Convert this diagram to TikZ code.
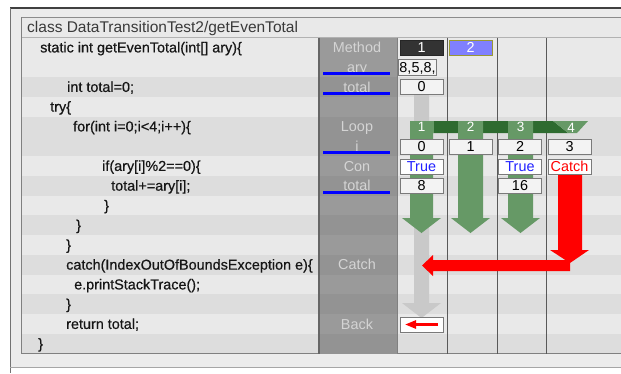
\documentclass[tikz,border=0pt]{standalone}
\usepackage{fontspec}
\setmainfont{Liberation Sans}
\newfontfamily\codefont{Liberation Sans}[FakeBold=0.5]
\usetikzlibrary{arrows.meta}
\definecolor{rowA}{HTML}{E9E9E9}
\definecolor{rowB}{HTML}{DDDDDD}
\definecolor{frameA}{HTML}{ECECEC}
\definecolor{colgray}{HTML}{9A9A9A}
\definecolor{lblgray}{HTML}{D4D4D4}
\definecolor{dkgreen}{HTML}{2E6B30}
\definecolor{ltgreen}{HTML}{669966}
\definecolor{pipegray}{HTML}{C9C9C9}
\definecolor{boxfill}{HTML}{F3F3F3}
\definecolor{boxline}{HTML}{7A7A7A}
\definecolor{methodblue}{HTML}{8080FF}
\definecolor{olivec}{HTML}{999933}
\definecolor{truetext}{HTML}{2222FF}
\definecolor{codetext}{HTML}{161616}
\definecolor{titletext}{HTML}{3A3A3A}
\newcommand{\rowc}[1]{(47.4+19.75*#1)}
\tikzset{
  code/.style={anchor=base west, inner sep=0pt, text=codetext, font=\codefont\fontsize{14.4}{16}\selectfont},
  lbl/.style={inner sep=0pt, text=lblgray, text height=10.3pt, text depth=0pt, font=\fontsize{14.4}{16}\selectfont},
  vbox/.style={draw=boxline, line width=0.8pt, fill=boxfill, minimum width=43pt, minimum height=15pt, inner sep=0pt, text height=10.3pt, text depth=0pt, font=\fontsize{14.4}{16}\selectfont},
  glbl/.style={fill=ltgreen, minimum height=12pt, inner sep=0pt, text=white, text height=9.6pt, text depth=0pt, font=\fontsize{13.5}{15}\selectfont},
  blueline/.style={draw=blue, line width=3pt},
  colline/.style={draw=black!65, line width=0.8pt}
}
\begin{document}
\begin{tikzpicture}[x=1pt,y=-1pt]
\useasboundingbox (0,0) rectangle (621,373);
\fill[white] (0,0) rectangle (621,373);
% outer frame
\fill[frameA] (10,8) rectangle (621,367);
\draw[black!75, line width=1.2pt] (10,8) -- (621,8);
\draw[black!55, line width=1pt] (10,8) -- (10,373);
\draw[black!35, line width=0.8pt] (10,367) -- (621,367);
% title row
\fill[rowA] (21,17) rectangle (621,37.5);
\node[anchor=base west, inner sep=0pt, text=titletext, font=\fontsize{15.5}{17}\selectfont] (title) at (27,32.5) {class DataTransitionTest2/getEvenTotal};
% rows
\foreach \i/\c in {0/rowA,1/rowA,2/rowB,3/rowA,4/rowB,5/rowB,6/rowA,7/rowB,8/rowA,9/rowB,10/rowA,11/rowB,12/rowA,13/rowB,14/rowA,15/rowB}
  \fill[\c] (21,{37.5+19.75*\i}) rectangle (621,{37.5+19.75*(\i+1)});
% panel borders
\draw[black!45, line width=0.8pt] (21,17) -- (621,17);
\draw[black!30, line width=0.8pt] (21,37.5) -- (621,37.5);
\draw[black!50, line width=0.8pt] (21,17) -- (21,353.5) -- (621,353.5);
% code
\node[code] (l0) at (40,{\rowc{0}+5}) {static int getEvenTotal(int[] ary)\{};
\node[code] (l2) at (67,{\rowc{2}+5}) {int total=0;};
\node[code] (l3) at (50,{\rowc{3}+5}) {try\{};
\node[code] (l4) at (73,{\rowc{4}+5}) {for(int i=0;i<4;i++)\{};
\node[code] (l6) at (102,{\rowc{6}+5}) {if(ary[i]\%2==0)\{};
\node[code] (l7) at (111,{\rowc{7}+5}) {total+=ary[i];};
\node[code] (l8) at (104,{\rowc{8}+5}) {\}};
\node[code] (l9) at (76,{\rowc{9}+5}) {\}};
\node[code] (l10) at (66,{\rowc{10}+5}) {\}};
\node[code] (l11) at (66,{\rowc{11}+5}) {catch(IndexOutOfBoundsException e)\{};
\node[code] (l12) at (74,{\rowc{12}+5}) {e.printStackTrace();};
\node[code] (l13) at (66,{\rowc{13}+5}) {\}};
\node[code] (l14) at (66,{\rowc{14}+5}) {return total;};
\node[code] (l15) at (38,{\rowc{15}+5}) {\}};
% gray column
\fill[colgray] (318,37.5) rectangle (398,353.5);
\foreach \i in {2,4,5,7,9,11,13,15}
  \fill[black, opacity=0.04] (318,{37.5+19.75*\i}) rectangle (398,{37.5+19.75*(\i+1)});
\draw[black!60, line width=1.6pt] (318.8,37.5) -- (318.8,353.5);
\draw[black!50, line width=1.4pt] (397.3,37.5) -- (397.3,353.5);
% labels
\node[lbl] (lmethod) at (357,{\rowc{0}}) {Method};
\node[lbl] (lary) at (357,{\rowc{1}}) {ary};
\node[lbl] (ltotal) at (357,{\rowc{2}}) {total};
\node[lbl] (lloop) at (357,{\rowc{4}}) {Loop};
\node[lbl] (li) at (357,{\rowc{5}}) {i};
\node[lbl] (lcon) at (357,{\rowc{6}}) {Con};
\node[lbl] (ltotal2) at (357,{\rowc{7}}) {total};
\node[lbl] (lcatch) at (357,{\rowc{11}}) {Catch};
\node[lbl] (lback) at (357,{\rowc{14}}) {Back};
\draw[blueline] (323,73.5) -- (390,73.5);
\draw[blueline] (323,93) -- (390,93);
\draw[blueline] (323,152.5) -- (390,152.5);
\draw[blueline] (323,192) -- (390,192);
% column lines
\draw[colline] (447.5,37.5) -- (447.5,353.5);
\draw[colline] (497,37.5) -- (497,353.5);
\draw[colline] (546.5,37.5) -- (546.5,353.5);
% gray pipe to Back
\fill[pipegray] (414,94) -- (429,94) -- (429,303) -- (441,303) -- (421.5,318) -- (402,303) -- (414,303) -- cycle;
% loop band
\fill[dkgreen] (410,121) -- (553,121) -- (568,133) -- (410,133) -- cycle;
\fill[ltgreen] (553,121) -- (588,121) -- (577,133) -- (568,133) -- cycle;
% green arrows
\fill[ltgreen] (410,121) -- (433,121) -- (433,218) -- (441,218) -- (421.5,233) -- (402,218) -- (410,218) -- cycle;
\fill[ltgreen] (458,121) -- (483,121) -- (483,218) -- (490,218) -- (470.5,233) -- (451,218) -- (458,218) -- cycle;
\fill[ltgreen] (508,121) -- (533,121) -- (533,218) -- (540,218) -- (520.5,233) -- (501,218) -- (508,218) -- cycle;
\node[glbl, minimum width=24pt] (g1) at (421.5,127) {1};
\node[glbl, minimum width=25pt] (g2) at (470.5,127) {2};
\node[glbl, minimum width=25pt] (g3) at (520.5,127) {3};
\node[inner sep=0pt, text=white, text height=9.6pt, text depth=0pt, font=\fontsize{13.5}{15}\selectfont] (g4) at (571,128) {4};
% red arrows
\fill[red] (558,170) -- (582,170) -- (582,250) -- (589,250) -- (570,263) -- (550,250) -- (558,250) -- cycle;
\fill[red] (570,260) -- (570,271) -- (433,271) -- (433,276) -- (422,265.5) -- (433,255) -- (433,260) -- cycle;
% value boxes
\node[vbox, fill=black!80, draw=black!85, text=white] (m1) at (421.5,47.5) {1};
\node[vbox, fill=methodblue, draw=olivec, text=white] (m2) at (470.5,47.5) {2};
\node[vbox, minimum width=38pt, minimum height=16pt] (aryv) at (417.5,67) {8,5,8,};
\node[vbox] (tot0) at (421.5,86.5) {0};
\node[vbox] (i0) at (421.5,146.5) {0};
\node[vbox] (i1) at (470.5,146.5) {1};
\node[vbox] (i2) at (520,146.5) {2};
\node[vbox] (i3) at (569.5,146.5) {3};
\node[vbox, fill=white, text=truetext] (con1) at (421.5,166.5) {True};
\node[vbox, fill=white, text=truetext] (con3) at (520,166.5) {True};
\node[vbox, fill=white, text=red] (con4) at (569.5,166.5) {Catch};
\node[vbox] (t1) at (421.5,185.5) {8};
\node[vbox] (t3) at (520,185.5) {16};
\node[vbox, fill=white] (back) at (421.5,324.5) {};
\coordinate (bk1) at (438,324.5);
\coordinate (bk2) at (405,324.5);
\draw[red, line width=2.5pt, -{Triangle[length=11pt,width=8pt]}] (bk1) -- (bk2);
\end{tikzpicture}
\end{document}
